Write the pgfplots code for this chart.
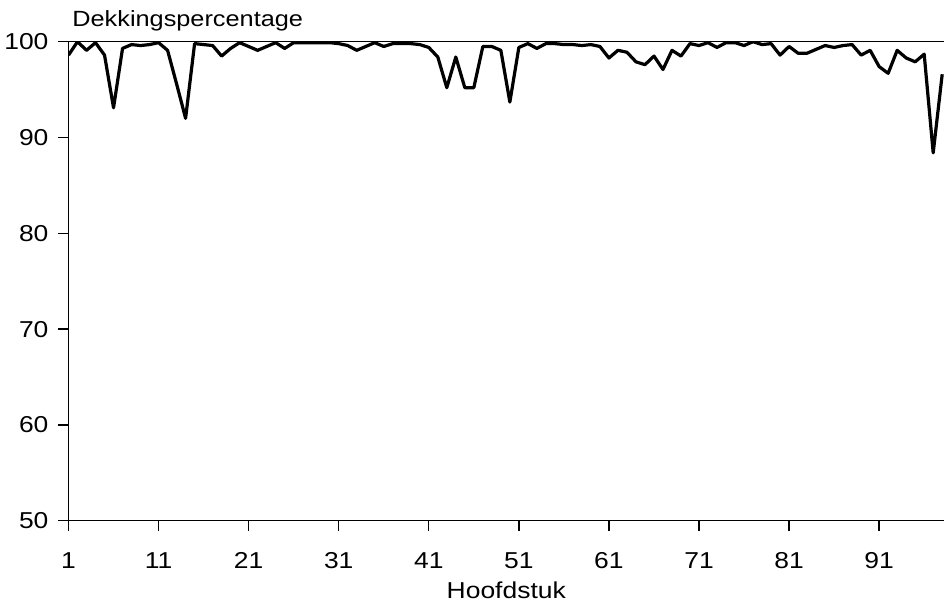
\documentclass[border=0pt]{standalone}
\usepackage{fontspec}
\setmainfont{Liberation Sans}[FakeStretch=1.15]
\usepackage{pgfplots}
\pgfplotsset{compat=1.18}
\begin{document}
\begin{tikzpicture}
\begin{axis}[
  scale only axis,
  width=437.75pt, height=239.5pt,
  xmin=1, xmax=98.2, ymin=50, ymax=100,
  axis x line=bottom, axis y line=left,
  axis line style={line width=0.8pt, -},
  xtick={1,11,21,31,41,51,61,71,81,91},
  ytick={50,60,70,80,90,100},
  tick align=outside,
  major tick length=5pt,
  tick style={line width=0.7pt, black},
  /pgf/number format/assume math mode=true,
  tick label style={font=\fontsize{11.5}{13}\selectfont},
  xticklabel style={anchor=base, yshift=-19pt},
  yticklabel style={xshift=-1.5pt},
  xlabel={Hoofdstuk},
  xlabel style={font=\fontsize{11.5}{13}\selectfont, at={(axis description cs:0.5,0)}, anchor=base, yshift=-39pt},
  clip mode=individual,
]
\addplot[black, line width=1.6pt, line join=round] coordinates {
(1,98.6)(2,100)(3,99.1)(4,99.9)(5,98.6)(6,93.1)(7,99.3)(8,99.7)(9,99.6)(10,99.7)
(11,99.9)(12,99.1)(13,95.6)(14,92.0)(15,99.8)(16,99.7)(17,99.6)(18,98.5)(19,99.3)(20,99.9)
(21,99.5)(22,99.1)(23,99.5)(24,99.9)(25,99.3)(26,99.9)(27,99.9)(28,99.9)(29,99.9)(30,99.9)
(31,99.8)(32,99.6)(33,99.1)(34,99.5)(35,99.9)(36,99.5)(37,99.8)(38,99.8)(39,99.8)(40,99.7)
(41,99.4)(42,98.4)(43,95.2)(44,98.4)(45,95.2)(46,95.2)(47,99.5)(48,99.5)(49,99.1)(50,93.7)
(51,99.4)(52,99.8)(53,99.3)(54,99.8)(55,99.8)(56,99.7)(57,99.7)(58,99.6)(59,99.7)(60,99.5)
(61,98.3)(62,99.1)(63,98.9)(64,97.9)(65,97.6)(66,98.5)(67,97.1)(68,99.1)(69,98.5)(70,99.8)
(71,99.6)(72,99.9)(73,99.4)(74,99.9)(75,99.9)(76,99.6)(77,100)(78,99.7)(79,99.8)(80,98.6)
(81,99.5)(82,98.8)(83,98.8)(84,99.2)(85,99.6)(86,99.4)(87,99.6)(88,99.7)(89,98.6)(90,99.1)
(91,97.4)(92,96.7)(93,99.1)(94,98.3)(95,97.9)(96,98.7)(97,88.4)(98,96.6)
};
\draw[black, line width=0.6pt] (rel axis cs:0,1) -- (rel axis cs:1,1);
\end{axis}
\node[anchor=base west, inner sep=0pt, font=\fontsize{11}{13}\selectfont] at (1.75pt,246.85pt) {Dekkingspercentage};
\pgfresetboundingbox
\path[use as bounding box] (-34.25pt,-41.5pt) rectangle (437.75pt,260.35pt);
\end{tikzpicture}
\end{document}
